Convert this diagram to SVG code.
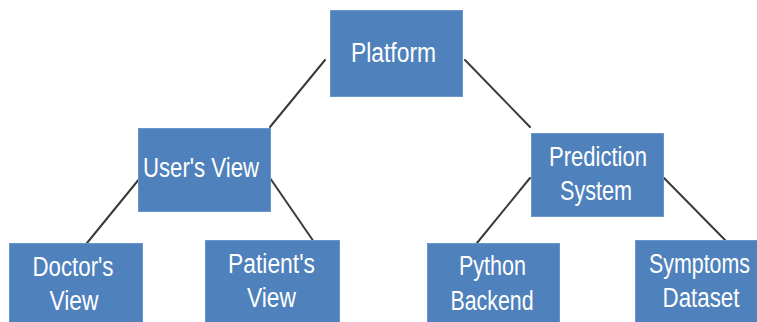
<svg xmlns="http://www.w3.org/2000/svg" width="757" height="322" viewBox="0 0 757 322">
<style>
.box{fill:#4F81BD;stroke:#6a95c9;stroke-width:1}
.t{font-family:"Liberation Sans",Arial,sans-serif;font-size:27px;fill:#ffffff;text-anchor:middle}
.c{stroke:#3a3a3a;stroke-width:2;fill:none;stroke-linecap:round}
</style>
<rect width="757" height="322" fill="#ffffff"/>
<g id="connectors">
<line class="c" x1="325" y1="60" x2="270" y2="127"/>
<line class="c" x1="465" y1="60" x2="530" y2="127"/>
<line class="c" x1="140" y1="178" x2="87" y2="243"/>
<line class="c" x1="270" y1="178" x2="314" y2="242"/>
<line class="c" x1="530" y1="178" x2="477" y2="243"/>
<line class="c" x1="664" y1="178" x2="727" y2="242"/>
</g>
<g id="platform">
<rect class="box" x="330.5" y="10.5" width="132" height="86"/>
<text class="t" x="393.5" y="62" textLength="85" lengthAdjust="spacingAndGlyphs">Platform</text>
</g>
<g id="users-view">
<rect class="box" x="138.5" y="128.5" width="132" height="83"/>
<text class="t" x="201" y="177" textLength="116" lengthAdjust="spacingAndGlyphs">User's View</text>
</g>
<g id="prediction-system">
<rect class="box" x="531.5" y="133.5" width="132" height="83"/>
<text class="t" x="598" y="166" textLength="98" lengthAdjust="spacingAndGlyphs">Prediction</text>
<text class="t" x="596" y="200" textLength="72" lengthAdjust="spacingAndGlyphs">System</text>
</g>
<g id="doctors-view">
<rect class="box" x="9.5" y="243.5" width="133" height="90"/>
<text class="t" x="73" y="276" textLength="81" lengthAdjust="spacingAndGlyphs">Doctor's</text>
<text class="t" x="74" y="310" textLength="49" lengthAdjust="spacingAndGlyphs">View</text>
</g>
<g id="patients-view">
<rect class="box" x="205.5" y="240.5" width="134" height="90"/>
<text class="t" x="271.5" y="273" textLength="87" lengthAdjust="spacingAndGlyphs">Patient's</text>
<text class="t" x="271.5" y="307" textLength="49" lengthAdjust="spacingAndGlyphs">View</text>
</g>
<g id="python-backend">
<rect class="box" x="427.5" y="243.5" width="132" height="90"/>
<text class="t" x="492.5" y="275" textLength="67" lengthAdjust="spacingAndGlyphs">Python</text>
<text class="t" x="492" y="310" textLength="83" lengthAdjust="spacingAndGlyphs">Backend</text>
</g>
<g id="symptoms-dataset">
<rect class="box" x="635.5" y="240.5" width="130" height="90"/>
<text class="t" x="699.5" y="273" textLength="101" lengthAdjust="spacingAndGlyphs">Symptoms</text>
<text class="t" x="701" y="307" textLength="77" lengthAdjust="spacingAndGlyphs">Dataset</text>
</g>
</svg>
